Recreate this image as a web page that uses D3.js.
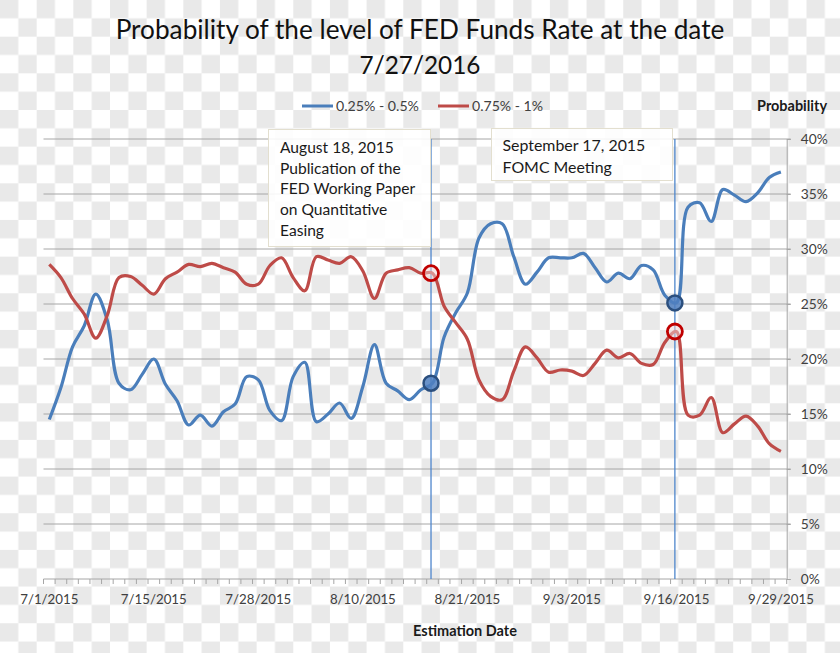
<!DOCTYPE html>
<html>
<head>
<meta charset="utf-8">
<script src="https://cdn.jsdelivr.net/npm/d3@7"></script>
<style>
  html, body { margin: 0; padding: 0; background: #fff; }
  svg { display: block; font-family: Lato, "Noto Sans", sans-serif; }
</style>
</head>
<body>
<svg id="chart" width="840" height="653"></svg>
<script>
// ---------------- data ----------------
const categories = [
  "7/1/2015","7/2/2015","7/6/2015","7/7/2015","7/8/2015","7/9/2015","7/10/2015","7/13/2015","7/14/2015","7/15/2015",
  "7/16/2015","7/17/2015","7/20/2015","7/21/2015","7/22/2015","7/23/2015","7/24/2015","7/27/2015","7/28/2015","7/29/2015",
  "7/30/2015","7/31/2015","8/3/2015","8/4/2015","8/5/2015","8/6/2015","8/7/2015","8/10/2015","8/11/2015","8/12/2015",
  "8/13/2015","8/14/2015","8/17/2015","8/18/2015","8/19/2015","8/20/2015","8/21/2015","8/24/2015","8/25/2015","8/26/2015",
  "8/27/2015","8/28/2015","8/31/2015","9/1/2015","9/2/2015","9/3/2015","9/4/2015","9/7/2015","9/8/2015","9/9/2015",
  "9/10/2015","9/11/2015","9/14/2015","9/15/2015","9/16/2015","9/17/2015","9/18/2015","9/21/2015","9/22/2015","9/23/2015",
  "9/24/2015","9/25/2015","9/28/2015","9/29/2015"
];
const seriesNames = ["0.25% - 0.5%", "0.75% - 1%"];
const rate025to05 = [
  14.5,17.4,21.1,23.0,25.9,23.5,17.8,17.2,18.6,20.0,
  17.7,16.2,14.0,14.9,13.9,15.2,15.9,18.4,18.1,15.3,
  14.4,18.4,19.7,14.3,15.0,16.0,14.6,17.5,21.3,17.8,
  17.1,16.3,17.2,17.8,22.0,24.2,26.0,31.0,32.3,32.3,
  29.3,26.8,27.9,29.2,29.2,29.2,29.6,28.3,27.0,27.8,
  27.3,28.5,28.1,25.8,25.1,33.8,34.2,32.5,35.4,34.9,
  34.3,35.1,36.5,37.0
];
const rate075to1 = [
  28.6,27.4,25.5,24.1,21.9,24.0,27.4,27.5,26.7,25.9,
  27.3,27.9,28.6,28.4,28.7,28.3,27.9,26.8,26.8,28.5,
  29.2,27.4,26.2,29.3,29.0,28.7,29.3,28.0,25.5,27.8,
  28.1,28.3,27.8,27.8,24.8,23.3,21.8,18.1,16.6,16.3,
  18.9,21.1,20.1,18.8,19.0,18.9,18.5,19.6,20.8,20.1,
  20.5,19.6,19.5,21.5,22.5,14.9,14.9,16.5,13.3,14.1,
  14.8,13.9,12.3,11.6
];
const xTickLabels = ["7/1/2015","7/15/2015","7/28/2015","8/10/2015","8/21/2015","9/3/2015","9/16/2015","9/29/2015"];
const yTicks = [0,5,10,15,20,25,30,35,40];
const eventDates = ["8/18/2015","9/16/2015"];
const eventNotes = [
  ["August 18, 2015","Publication of the","FED Working Paper","on Quantitative","Easing"],
  ["September 17, 2015","FOMC Meeting"]
];
const titleLines = ["Probability of the level of FED Funds Rate at the date","7/27/2016"];

// ---------------- layout ----------------
const svg = d3.select("#chart");
const W = 840, H = 653;
const plot = {left: 43.5, right: 786.7, top: 139, bottom: 579};
const blueC = "#4a7ebb", redC = "#be4b48";

// checkerboard (transparent background look)
const sq = 18.33;
const defs = svg.append("defs");
const pat = defs.append("pattern").attr("id","checker").attr("patternUnits","userSpaceOnUse")
  .attr("width", sq*2).attr("height", sq*2);
pat.append("rect").attr("width", sq*2).attr("height", sq*2).attr("fill","#ffffff");
pat.append("rect").attr("x",0).attr("y",0).attr("width",sq).attr("height",sq).attr("fill","#e9e9e9");
pat.append("rect").attr("x",sq).attr("y",sq).attr("width",sq).attr("height",sq).attr("fill","#e9e9e9");
svg.append("rect").attr("width",W).attr("height",H).attr("fill","url(#checker)");

function fit(sel, target) {
  const w = sel.node().getComputedTextLength();
  const s = parseFloat(sel.style("font-size"));
  const ns = s * target / w;
  sel.style("font-size", ns + "px");
  return ns;
}

const x = d3.scaleBand().domain(categories).range([plot.left, plot.right]).padding(0);
const cx = d => x(d) + x.bandwidth()/2;
const y = d3.scaleLinear().domain([0,40]).range([plot.bottom, plot.top]);

// gridlines
svg.append("g").selectAll("line").data(yTicks.filter(d => d > 0)).join("line")
  .attr("x1", plot.left).attr("x2", plot.right + 4)
  .attr("y1", d => y(d)).attr("y2", d => y(d))
  .attr("stroke","#a6a6a6").attr("stroke-width",1);

// right axis
const yAxis = svg.append("g").attr("transform", `translate(${plot.right},0)`)
  .call(d3.axisRight(y).tickValues(yTicks).tickFormat(d => d + "%").tickSize(4).tickPadding(10));
yAxis.select(".domain").attr("stroke","#a6a6a6");
yAxis.selectAll(".tick line").attr("stroke","#a6a6a6");
yAxis.selectAll("text").attr("fill","#404040").style("font-size","14px").style("font-family","Lato");

// bottom axis line + category ticks
svg.append("line").attr("x1",plot.left).attr("x2",plot.right).attr("y1",plot.bottom).attr("y2",plot.bottom)
  .attr("stroke","#a6a6a6");
const bounds = categories.map(c => x(c)).concat([plot.right]);
svg.append("g").selectAll("line").data(bounds).join("line")
  .attr("x1", d => d).attr("x2", d => d).attr("y1", plot.bottom).attr("y2", plot.bottom + 5)
  .attr("stroke","#a6a6a6");
const xAxis = svg.append("g").attr("transform", `translate(0,${plot.bottom})`)
  .call(d3.axisBottom(x).tickValues(xTickLabels).tickSize(0).tickPadding(16));
xAxis.select(".domain").remove();
xAxis.selectAll("text").attr("fill","#404040").style("font-size","14px").style("font-family","Lato");
{
  const t = xAxis.selectAll("text").filter(d => d === "7/15/2015");
  const s = fit(t, 66);
  xAxis.selectAll("text").style("font-size", s + "px");
  const ys = yAxis.selectAll("text").filter(d => d === 40);
  const s2 = fit(ys, 27);
  yAxis.selectAll("text").style("font-size", s2 + "px");
}

// event vertical lines
svg.append("g").selectAll("line").data(eventDates).join("line")
  .attr("x1", d => cx(d) - 1.5).attr("x2", d => cx(d) - 1.5)
  .attr("y1", plot.top).attr("y2", plot.bottom)
  .attr("stroke","#4f86cc").attr("stroke-width",1.3);

// series lines
const line = d3.line().x((d,i) => cx(categories[i])).y(d => y(d)).curve(d3.curveCatmullRom.alpha(0.5));
svg.append("path").datum(rate025to05).attr("d", line).attr("fill","none")
  .attr("stroke", blueC).attr("stroke-width", 3.2).attr("stroke-linejoin","round");
svg.append("path").datum(rate075to1).attr("d", line).attr("fill","none")
  .attr("stroke", redC).attr("stroke-width", 3.2).attr("stroke-linejoin","round");

// event markers
eventDates.forEach(d => {
  const i = categories.indexOf(d);
  svg.append("circle").attr("cx", cx(d) - 1.5).attr("cy", y(rate025to05[i])).attr("r", 7.5)
    .attr("fill", "#4f7fbf").attr("fill-opacity", 0.85).attr("stroke","#2b4f7e").attr("stroke-width",2.5);
  svg.append("circle").attr("cx", cx(d) - 1.5).attr("cy", y(rate075to1[i])).attr("r", 7.5)
    .attr("fill", "#f4d6d6").attr("fill-opacity", 0.5).attr("stroke","#c00000").attr("stroke-width",2.8);
});

// annotation boxes
const boxes = [
  {x: 268.5, y: 129.5, w: 162, h: 117, tx: 280, ty: 153, lh: 20.7, fw: 114},
  {x: 491.5, y: 128.5, w: 181, h: 52, tx: 502.5, ty: 151, lh: 21.7, fw: 143}
];
boxes.forEach((b, k) => {
  svg.append("rect").attr("x", b.x).attr("y", b.y).attr("width", b.w).attr("height", b.h)
    .attr("fill","#ffffff").attr("fill-opacity",0.88).attr("stroke","#e3dfcf").attr("stroke-width",1);
  const g = svg.append("g");
  const ts = g.selectAll("text").data(eventNotes[k]).join("text")
    .attr("x", b.tx).attr("y", (d,i) => b.ty + i*b.lh)
    .attr("fill","#1a1a1a").style("font-size","15px").text(d => d);
  const s = fit(ts.filter((d,i) => i === 0), b.fw);
  ts.style("font-size", s + "px");
});

// title
titleLines.forEach((t, i) => {
  const el = svg.append("text").attr("x", 420).attr("y", i === 0 ? 39 : 73.5)
    .attr("text-anchor","middle").attr("fill","#111").style("font-size","24px").text(t);
  fit(el, i === 0 ? 609 : 121);
});

// legend
const legend = [
  {x1: 302, x2: 333, tx: 336, w: 83, c: blueC},
  {x1: 438, x2: 469, tx: 472, w: 71, c: redC}
];
legend.forEach((l, i) => {
  svg.append("line").attr("x1", l.x1).attr("x2", l.x2).attr("y1", 106).attr("y2", 106)
    .attr("stroke", l.c).attr("stroke-width", 3);
  const t = svg.append("text").attr("x", l.tx).attr("y", 110.5).attr("fill","#404040")
    .style("font-size","13px").text(seriesNames[i]);
  fit(t, l.w);
});

// axis titles
const pt = svg.append("text").attr("x", 827).attr("y", 110.5).attr("text-anchor","end")
  .attr("fill","#1a1a1a").style("font-weight","bold").style("font-size","13px").text("Probability");
fit(pt, 70);
const et = svg.append("text").attr("x", 465).attr("y", 636).attr("text-anchor","middle")
  .attr("fill","#1a1a1a").style("font-weight","bold").style("font-size","13px").text("Estimation Date");
fit(et, 104);
</script>
</body>
</html>
